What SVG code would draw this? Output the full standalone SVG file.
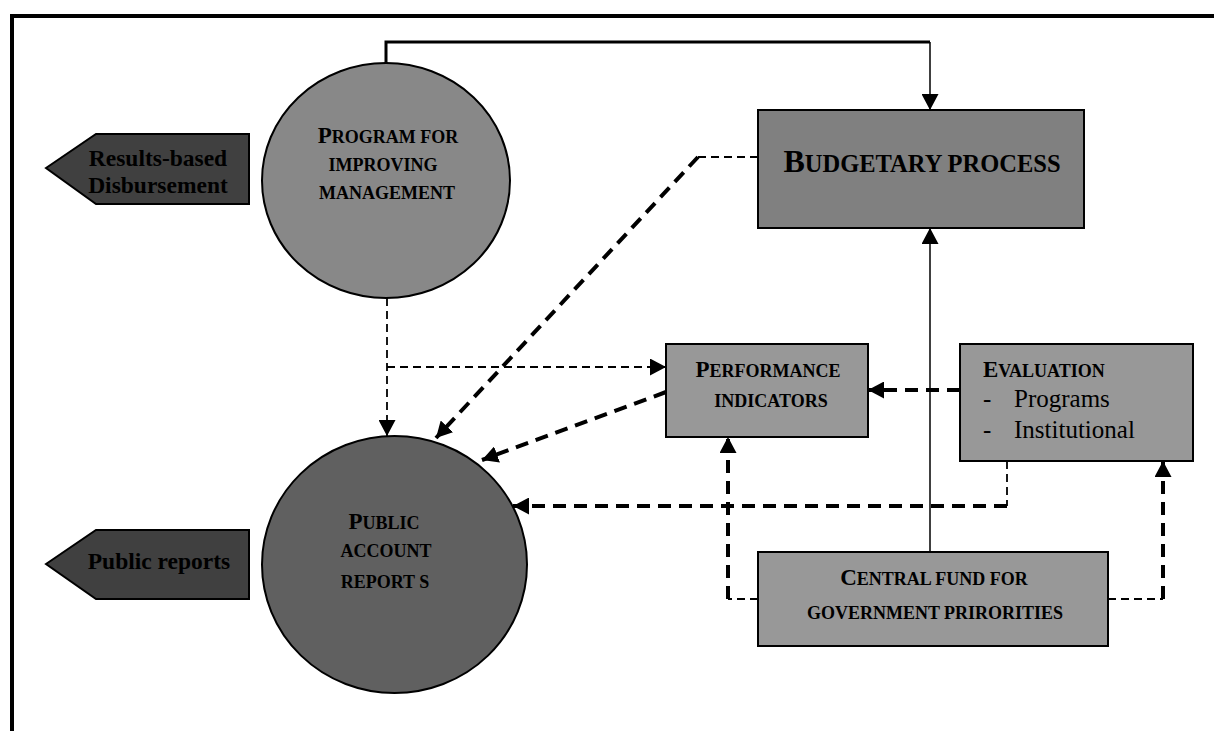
<svg xmlns="http://www.w3.org/2000/svg" width="1214" height="731" viewBox="0 0 1214 731">
  <style>
    .frame { fill: none; stroke: #000; stroke-width: 4; }
    .node { stroke: #000; stroke-width: 2; }
    .t { font-family: "Liberation Serif", "Times New Roman", serif; font-weight: bold; fill: #000; }
    .tr { font-family: "Liberation Serif", "Times New Roman", serif; fill: #000; }
    .sc { font-size: 18px; }
    .cap { font-size: 23px; }
    .solid { fill: none; stroke: #000; stroke-width: 1.5; }
    .bold { fill: none; stroke: #000; stroke-width: 3; }
    .thin { fill: none; stroke: #000; stroke-width: 1.8; stroke-dasharray: 8 5; }
    .thick { fill: none; stroke: #000; stroke-width: 4; stroke-dasharray: 13 8; }
  </style>
  <defs>
    <marker id="arrow" markerUnits="userSpaceOnUse" markerWidth="17" markerHeight="17" refX="16" refY="8.5" orient="auto">
      <path d="M0,0 L16,8.5 L0,17 Z" fill="#000" stroke="none"/>
    </marker>
  </defs>

  <rect width="1214" height="731" fill="#fff"/>
  <!-- outer frame, open to the right and bottom -->
  <path class="frame" d="M12,740 V16 H1225"/>

  <!-- connectors -->
  <g id="connectors">
    <path class="bold" d="M386,63 V42 H930"/>
    <path class="solid" d="M930,42 V110" marker-end="url(#arrow)"/>
    <path class="solid" d="M930,552 V228" marker-end="url(#arrow)"/>
    <path class="thin" d="M387,298 V436" marker-end="url(#arrow)"/>
    <path class="thin" d="M387,367 H666" marker-end="url(#arrow)"/>
    <path class="thin" d="M758,157 H698"/>
    <path class="thick" d="M698,157 L436,438" marker-end="url(#arrow)"/>
    <path class="thick" d="M666,392 L482,460" marker-end="url(#arrow)"/>
    <path class="thick" d="M960,390 H868" marker-end="url(#arrow)"/>
    <path class="thin" d="M1007,461 V506"/>
    <path class="thick" d="M1007,506 H513" marker-end="url(#arrow)"/>
    <path class="thin" d="M758,599 H728"/>
    <path class="thick" d="M728,599 V437" marker-end="url(#arrow)"/>
    <path class="thin" d="M1108,599 H1163"/>
    <path class="thick" d="M1163,599 V461" marker-end="url(#arrow)"/>
  </g>

  <g id="results-disbursement">
    <path class="node" d="M46,168 L96,134 H249 V204 H96 Z" fill="#404040"/>
    <text class="t" font-size="23.5" text-anchor="middle" x="158" y="166">Results-based</text>
    <text class="t" font-size="23.5" text-anchor="middle" x="158" y="193">Disbursement</text>
  </g>

  <g id="public-reports">
    <path class="node" d="M46,564 L96,530 H249 V599 H96 Z" fill="#404040"/>
    <text class="t" font-size="23.5" text-anchor="middle" x="159" y="569">Public reports</text>
  </g>

  <g id="program-management">
    <ellipse class="node" cx="386" cy="180.5" rx="124" ry="117.5" fill="#888888"/>
    <text class="t sc" text-anchor="middle" x="388" y="143"><tspan class="cap">P</tspan>ROGRAM FOR</text>
    <text class="t sc" text-anchor="middle" x="383" y="171">IMPROVING</text>
    <text class="t sc" text-anchor="middle" x="387" y="199">MANAGEMENT</text>
  </g>

  <g id="public-account-reports">
    <ellipse class="node" cx="394.5" cy="564.5" rx="132.5" ry="128.5" fill="#606060"/>
    <text class="t sc" text-anchor="middle" x="384" y="529"><tspan class="cap">P</tspan>UBLIC</text>
    <text class="t sc" text-anchor="middle" x="386" y="557">ACCOUNT</text>
    <text class="t sc" text-anchor="middle" x="385" y="588">REPORT S</text>
  </g>

  <g id="budgetary-process">
    <rect class="node" x="758" y="110" width="326" height="118" fill="#808080"/>
    <text class="t" text-anchor="middle" x="922" y="172" font-size="24.5"><tspan font-size="32">B</tspan>UDGETARY PROCESS</text>
  </g>

  <g id="performance-indicators">
    <rect class="node" x="666" y="344" width="202" height="93" fill="#989898"/>
    <text class="t sc" text-anchor="middle" x="768" y="377"><tspan class="cap">P</tspan>ERFORMANCE</text>
    <text class="t sc" text-anchor="middle" x="771" y="407">INDICATORS</text>
  </g>

  <g id="evaluation">
    <rect class="node" x="960" y="344" width="233" height="117" fill="#989898"/>
    <text class="t sc" x="983" y="377"><tspan class="cap">E</tspan>VALUATION</text>
    <text class="tr" font-size="25" x="983" y="407">-</text>
    <text class="tr" font-size="25" x="1014" y="407">Programs</text>
    <text class="tr" font-size="25" x="983" y="438">-</text>
    <text class="tr" font-size="25" x="1014" y="438">Institutional</text>
  </g>

  <g id="central-fund">
    <rect class="node" x="758" y="552" width="350" height="94" fill="#989898"/>
    <text class="t sc" text-anchor="middle" x="934" y="585"><tspan class="cap">C</tspan>ENTRAL FUND FOR</text>
    <text class="t sc" text-anchor="middle" x="935" y="619">GOVERNMENT PRIRORITIES</text>
  </g>
</svg>
